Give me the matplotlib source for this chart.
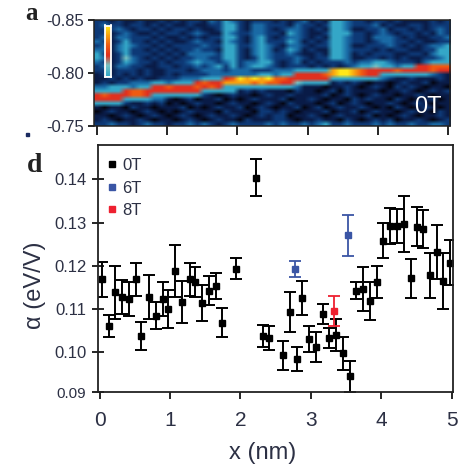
import numpy as np
import matplotlib
matplotlib.use('Agg')
import matplotlib.pyplot as plt
from matplotlib.colors import LinearSegmentedColormap
from matplotlib.lines import Line2D
from matplotlib.patches import Rectangle

# panel d, 0T points
x_0t = [0.03, 0.14, 0.22, 0.32, 0.42, 0.52, 0.59, 0.70, 0.80, 0.90, 0.97, 1.07, 1.17, 1.28, 1.36, 1.46, 1.56, 1.65, 1.74, 1.94,
        2.22, 2.32, 2.41, 2.60, 2.70, 2.80, 2.88, 2.98, 3.08, 3.18, 3.26, 3.36, 3.46, 3.56, 3.64, 3.74, 3.84, 3.94,
        4.02, 4.12, 4.22, 4.32, 4.42, 4.51, 4.60, 4.70, 4.79, 4.88, 4.98]
y_0t = [.1168, .1060, .1138, .1128, .1122, .1168, .1037, .1128, .1084, .1122, .1100, .1188, .1115, .1168, .1163, .1113, .1142, .1153, .1068, .1193,
        .1404, .1037, .1032, .0992, .1093, .0983, .1125, .1029, .1012, .1088, .1032, .1039, .0997, .0944, .1142, .1145, .1119, .1162,
        .1258, .1292, .1292, .1296, .1171, .1290, .1285, .1178, .1232, .1164, .1207]
e_0t = [.0040, .0025, .0062, .0039, .0039, .0038, .0033, .0051, .0032, .0039, .0044, .0061, .0049, .0039, .0035, .0041, .0034, .0030, .0033, .0025,
        .0043, .0026, .0028, .0033, .0047, .0028, .0040, .0030, .0035, .0023, .0023, .0038, .0038, .0036, .0020, .0051, .0044, .0037,
        .0040, .0042, .0039, .0065, .0045, .0045, .0045, .0052, .0062, .0065, .0053]
x_6t = [2.78, 3.53]
y_6t = [.1192, .1270]
e_6t = [.0018, .0048]
x_8t = [3.33]
y_8t = [.1095]
e_8t = [.0035]

# panel a, intensity 0-9, top row first
heat_rows = [
    "2212112112 1212213243 2122212123 1214432212 2121111212",
    "2322122121 2112112244 2133222132 2124432223 1211221222",
    "2223212212 1221211244 2133212332 1214431122 3122121232",
    "2212321121 2212321143 2233221432 1124442212 3212212132",
    "2313322212 1121212244 2134212332 1214432213 3321211223",
    "3212422121 2112322143 2134222431 2124432212 3322121122",
    "2313432212 1222232244 2234321332 1224431122 2321212334",
    "3313422121 2122322144 2134312431 2114432221 2122112244",
    "4212422212 1213333244 2134322321 1214431212 2211221344",
    "4312532121 2122332244 2124322232 1224431122 1212112234",
    "3212432212 1223433234 2334421231 2122232334 4322213444",
    "2313322112 2122323424 2344321222 1212123445 4434466777",
    "2212221211 2221233323 3322233344 4448998766 6676666766",
    "1212121211 2122223333 3334434466 6678998766 4444444321",
    "1121212112 2233344467 9898977666 6664444444 3211211121",
    "1212233344 3444676688 8878776654 4441212101 1012112011",
    "3344434466 7666767644 4444444431 1101121012 1021210110",
    "4444677666 6666644444 1212111021 1012021111 0112101212",
    "6766677644 4444421012 1101211211 1120121012 1101121011",
    "6666444433 1012011201 0121112011 2101102121 1021011201",
    "4444211212 0101211012 1101210211 1012012101 1210121011",
    "1011021101 1120101211 2012101120 1201211210 1021012101",
    "0121101210 1012111021 1102212101 1120112012 1101211021",
    "1101210121 0121012112 1012122011 2101211120 1012101121",
    "1210112101 1012101211 0211122101 1211021012 1201121012",
    "2232212322 1223232123 2222323223 2342232223 2322322332",
]
heat = np.array([[int(c) for c in r.replace(' ', '')] for r in heat_rows])

y_a_ticks = [-0.85, -0.80, -0.75]
y_d_ticks = [0.0907, 0.10, 0.11, 0.12, 0.13, 0.14]
y_d_labels = ['0.09', '0.10', '0.11', '0.12', '0.13', '0.14']
x_ticks = [0, 1, 2, 3, 4, 5]

plt.rcParams['font.family'] = ['Liberation Sans', 'DejaVu Sans']
text_col = '#2c3044'
W, H = 466, 468


def px_axes(left, top, right, bottom):
    return fig.add_axes([left / W, 1 - bottom / H, (right - left) / W, (bottom - top) / H])


fig = plt.figure(figsize=(4.66, 4.68), dpi=100)

cmap = LinearSegmentedColormap.from_list('stm', ['#04040f', '#0a1c48', '#0e3a78', '#1a6aa5', '#35a8c8',
                                                 '#78c4c4', '#e0301f', '#ef5a12', '#f8a010', '#ffe818'])

# panel a
ax = px_axes(93.5, 19.5, 450, 126)
ax.imshow(heat, cmap=cmap, vmin=0, vmax=9, aspect='auto', interpolation='bilinear', interpolation_stage='rgba',
          extent=[-0.05, 5.03, -0.75, -0.85])
ax.set_xlim(-0.05, 5.03)
ax.set_ylim(-0.75, -0.85)
ax.set_yticks(y_a_ticks)
ax.set_yticklabels(['-0.85', '-0.80', '-0.75'], fontsize=12, color=text_col)
ax.set_xticks(x_ticks)
ax.set_xticklabels([])
ax.tick_params(axis='y', length=4, width=1.2, pad=3)
ax.tick_params(axis='x', length=6.5, width=1.2)
for s in ax.spines.values():
    s.set_linewidth(1.1)
    s.set_color('#222222')
fig.text(428 / W, 1 - 107 / H, '0T', color='white', fontsize=17, ha='center', va='center')

# scale bar inside panel a
cb = px_axes(104.5, 25.5, 110.5, 76.5)
cb.imshow(np.linspace(9, 4, 40).reshape(-1, 1), cmap=cmap, vmin=0, vmax=9, aspect='auto')
cb.set_xticks([])
cb.set_yticks([])
for s in cb.spines.values():
    s.set_color('white')
    s.set_linewidth(1.3)

# panel d
ax2 = px_axes(97.5, 144.5, 453, 392)
ax2.errorbar(x_0t, y_0t, yerr=e_0t, fmt='s', color='black', ms=5, lw=1.4, capsize=4.3, capthick=1.4)
ax2.errorbar(x_6t, y_6t, yerr=e_6t, fmt='s', color='#3a55a5', ms=4.8, lw=1.3, capsize=4.3, capthick=1.3)
ax2.errorbar(x_8t, y_8t, yerr=e_8t, fmt='s', color='#ee2030', ms=4.8, lw=1.3, capsize=4.3, capthick=1.3)
ax2.set_xlim(-0.03, 5.02)
ax2.set_ylim(0.0907, 0.1481)
ax2.set_xticks(x_ticks)
ax2.set_xticklabels([str(v) for v in x_ticks], fontsize=15, color=text_col)
ax2.set_yticks(y_d_ticks)
ax2.set_yticklabels(y_d_labels, fontsize=12, color=text_col)
ax2.get_yticklabels()[0].set_fontsize(11)
ax2.tick_params(axis='x', length=5, width=1.2, pad=9)
ax2.tick_params(axis='y', direction='inout', length=9, width=1.2, pad=3.5)
for s in ax2.spines.values():
    s.set_linewidth(1.3)
    s.set_color('#222222')

handles = [Line2D([], [], ls='', marker='s', color='black', ms=5),
           Line2D([], [], ls='', marker='s', color='#3a55a5', ms=4.5),
           Line2D([], [], ls='', marker='s', color='#ee2030', ms=4.5)]
ax2.legend(handles, ['0T', '6T', '8T'], loc='upper left', bbox_to_anchor=(-0.01, 0.985), frameon=False, fontsize=12,
           labelcolor=text_col, handlelength=1, handletextpad=0.1, labelspacing=0.45, borderpad=0.3, borderaxespad=0.3)

fig.text(263 / W, 1 - 453 / H, 'x (nm)', fontsize=17, color=text_col, ha='center', va='center')
fig.text(35 / W, 1 - 285 / H, 'α (eV/V)', fontsize=17, color=text_col, ha='center', va='center', rotation=90)
fig.text(31 / W, 1 - 14 / H, 'a', fontsize=18, fontweight='bold', family='Liberation Serif', color='#222222',
         ha='center', va='center')
fig.text(35 / W, 1 - 165 / H, 'd', fontsize=20, fontweight='bold', family='Liberation Serif', color='#222222',
         ha='center', va='center')
fig.add_artist(Rectangle((26 / W, 1 - 136 / H), 2.5 / W, 3.5 / H, transform=fig.transFigure, color='#1a2a60'))

fig.savefig('out.png', dpi=100)
